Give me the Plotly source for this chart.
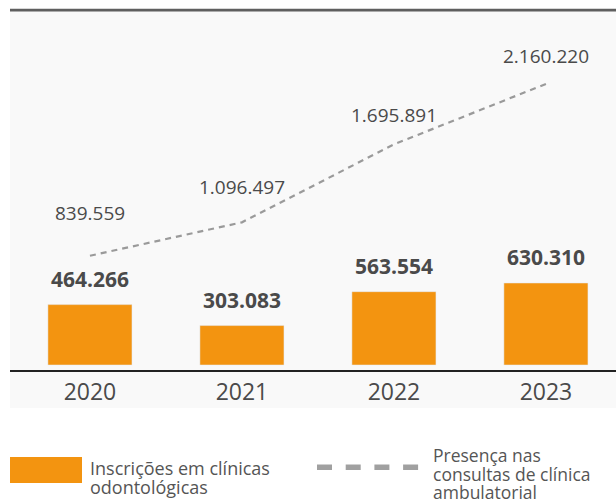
import plotly.graph_objects as go

# ---- data ----
years = ["2020", "2021", "2022", "2023"]
inscricoes = [464266, 303083, 563554, 630310]
presenca = [839559, 1096497, 1695891, 2160220]
inscricoes_labels = ["464.266", "303.083", "563.554", "630.310"]
presenca_labels = ["839.559", "1.096.497", "1.695.891", "2.160.220"]
legend_bar_lines = ["Inscrições em clínicas", "odontológicas"]
legend_line_lines = ["Presença nas", "consultas de clínica", "ambulatorial"]

# ---- style ----
W, H = 616, 500
ML, MR, MT, MB = 10, 0, 11, 130
PW, PH = W - ML - MR, H - MT - MB
ORANGE = "#F39410"
GRAY_LINE = "#9a9a9a"
TXT = "#4a4a4a"
FONT = "Open Sans"
line_label_shift = [43, 35, 29, 28]


def px(x):
    return (x - ML) / PW


def py(y):
    return (MT + PH - y) / PH


fig = go.Figure()
fig.add_trace(go.Bar(x=years, y=inscricoes, marker_color=ORANGE, width=0.553,
                     hoverinfo="skip", showlegend=False))
fig.add_trace(go.Scatter(x=years, y=presenca, mode="lines",
                         line=dict(color=GRAY_LINE, width=2.2, dash="6px,5px"),
                         hoverinfo="skip", showlegend=False))

ann = []
for i, (v, t) in enumerate(zip(inscricoes, inscricoes_labels)):
    ann.append(dict(x=i, y=v, xref="x", yref="y", text="<b>" + t + "</b>", showarrow=False,
                    yanchor="middle", yshift=26, font=dict(size=21, color=TXT, family=FONT)))
for i, (v, t, s) in enumerate(zip(presenca, presenca_labels, line_label_shift)):
    ann.append(dict(x=i, y=v, xref="x", yref="y", text=t, showarrow=False, yanchor="middle",
                    yshift=s, font=dict(size=19, color=TXT, family=FONT)))

# legend texts
for i, t in enumerate(legend_bar_lines):
    ann.append(dict(xref="paper", yref="paper", x=px(88), y=py(468 + 19 * i), text=t,
                    showarrow=False, xanchor="left", yanchor="middle",
                    font=dict(size=18, color="#555555", family=FONT)))
for i, t in enumerate(legend_line_lines):
    ann.append(dict(xref="paper", yref="paper", x=px(431), y=py(455 + 18.5 * i), text=t,
                    showarrow=False, xanchor="left", yanchor="middle",
                    font=dict(size=17.5, color="#555555", family=FONT)))

shapes = [
    # panel background
    dict(type="rect", xref="paper", yref="paper", x0=0, x1=1, y0=py(408), y1=py(11),
         fillcolor="#f9f9f9", line_width=0, layer="below"),
    # top rule
    dict(type="rect", xref="paper", yref="paper", x0=0, x1=1, y0=py(11.5), y1=py(8.8),
         fillcolor="#5f5f5f", line_width=0, layer="above"),
    # legend swatch
    dict(type="rect", xref="paper", yref="paper", x0=px(10), x1=px(82), y0=py(483), y1=py(457),
         fillcolor=ORANGE, line_width=0),
]
for k in range(4):
    x0 = 317 + k * 28.7
    shapes.append(dict(type="rect", xref="paper", yref="paper", x0=px(x0), x1=px(x0 + 15),
                       y0=py(470), y1=py(464.5), fillcolor="#a0a0a0", line_width=0))

fig.update_layout(
    width=W, height=H,
    margin=dict(l=ML, r=MR, t=MT, b=MB, autoexpand=False),
    paper_bgcolor="white", plot_bgcolor="#f9f9f9",
    annotations=ann, shapes=shapes, showlegend=False,
    xaxis=dict(type="category", range=[-0.526, 3.461], showgrid=False, zeroline=False,
               showline=True, linecolor="#222222", linewidth=2, ticks="",
               tickfont=dict(size=23, color=TXT, family=FONT), fixedrange=True),
    yaxis=dict(range=[-38400, 2720800], visible=False, showgrid=False, fixedrange=True),
)
fig.write_html("out.html", config={"displayModeBar": False},
               post_script="document.body.style.margin='0';")
